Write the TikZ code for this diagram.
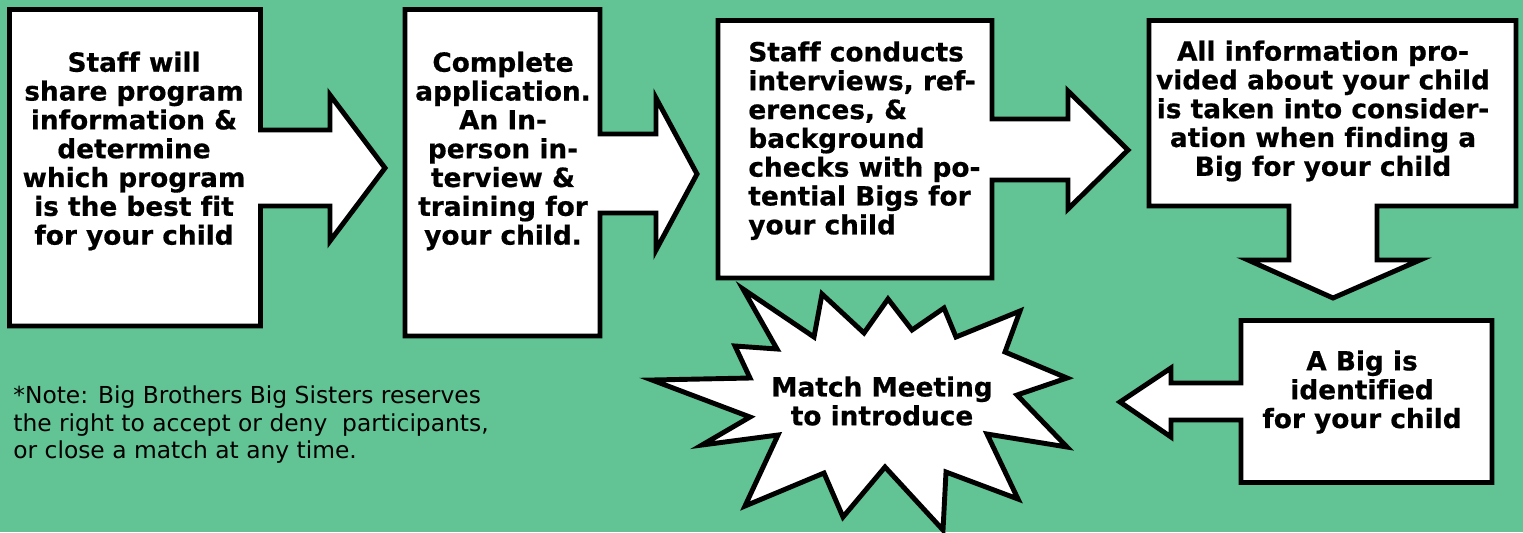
\documentclass[tikz,border=0pt]{standalone}
\usepackage{fontspec}
\setmainfont[Ligatures=NoCommon,BoldFeatures={FakeBold=0.6}]{DejaVu Sans}
\usetikzlibrary{positioning}

\definecolor{bbgreen}{RGB}{98,195,148}

\begin{document}
\begin{tikzpicture}[x=0.02cm,y=-0.02cm,
    callout/.style={draw=black,fill=white,line width=2.8pt,line join=miter},
    steptext/.style={inner sep=0pt,align=center,
        font=\bfseries\fontsize{15}{16.4}\selectfont},
    notetext/.style={inner sep=0pt,align=left,
        font=\fontsize{13.3}{15.9}\selectfont}]

    % background and page size
    \fill[bbgreen] (0,0) rectangle (1523,532);
    \useasboundingbox (0,0) rectangle (1523,532);

    % step callouts
    \draw[callout] (9.5,9.5) -- (260.5,9.5) -- (260.5,130) -- (330,130)
        -- (330,95) -- (385,168) -- (330,241) -- (330,206) -- (260.5,206)
        -- (260.5,326) -- (9.5,326) -- cycle;
    \draw[callout] (405,9.5) -- (600,9.5) -- (600,134) -- (656,134)
        -- (656,98) -- (697,174) -- (656,250) -- (656,213) -- (600,213)
        -- (600,336) -- (405,336) -- cycle;
    \draw[callout] (718,20.5) -- (992,20.5) -- (992,119) -- (1068,119)
        -- (1068,91) -- (1128,150) -- (1068,209) -- (1068,180) -- (992,180)
        -- (992,278) -- (718,278) -- cycle;
    \draw[callout] (1149,20.5) -- (1516,20.5) -- (1516,206) -- (1377,206)
        -- (1377,260) -- (1420,260) -- (1333,298) -- (1248,260) -- (1289,260)
        -- (1289,206) -- (1149,206) -- cycle;
    \draw[callout] (1241,320.5) -- (1492,320.5) -- (1492,482.5) -- (1241,482.5)
        -- (1241,420) -- (1171,420) -- (1171,437) -- (1120,402) -- (1171,368)
        -- (1171,383) -- (1241,383) -- cycle;

    % burst
    \draw[callout] (652,380) -- (750,378) -- (735,346) -- (777,349)
        -- (743,289) -- (814,337) -- (822,294) -- (864,333) -- (888,299)
        -- (912,330) -- (944,308) -- (956,337) -- (1020,311) -- (1005,352)
        -- (1067,378) -- (1017,395) -- (1067,447) -- (987,434) -- (1018,499)
        -- (946,472) -- (943,530) -- (885,467) -- (843,517) -- (824,473)
        -- (745,506) -- (778,435) -- (702,445) -- (750,417) -- cycle;

    \node[steptext] (share) at (134,151)
        {Staff will\\share program\\information \&\\determine\\which program\\is the best fit\\for your child};
    \node[steptext] (apply) at (503,151)
        {Complete\\application.\\An In-\\person in-\\terview \&\\training for\\your child.};
    \node[steptext,align=left,anchor=north west] (screen) at (748,41)
        {Staff conducts\\interviews, ref-\\erences, \&\\background\\checks with po-\\tential Bigs for\\your child};
    \node[steptext] (consider) at (1323,111)
        {All information pro-\\vided about your child\\is taken into consider-\\ation when finding a\\Big for your child};
    \node[steptext] (identified) at (1362,392)
        {A Big is\\identified\\for your child};
    \node[steptext] (meeting) at (882,401)
        {Match Meeting\\to introduce};

    \node[notetext,anchor=north west] (note) at (13,385)
        {*Note: Big Brothers Big Sisters reserves\\the right to accept or deny\ \ participants,\\or close a match at any time.};
\end{tikzpicture}
\end{document}
